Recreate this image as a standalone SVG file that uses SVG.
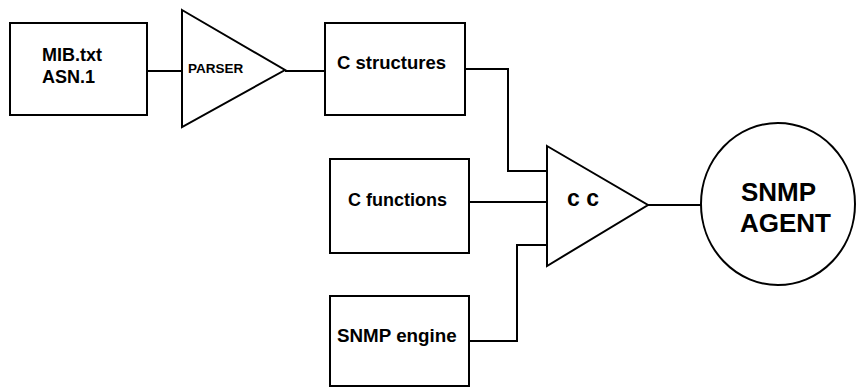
<svg xmlns="http://www.w3.org/2000/svg" width="856" height="387" viewBox="0 0 856 387">
<style>
.s{fill:#fff;stroke:#000;stroke-width:2}
.c{fill:none;stroke:#000;stroke-width:2}
text{font-family:"Liberation Sans",Arial,sans-serif;font-weight:bold;fill:#000}
</style>
<rect width="856" height="387" fill="#fff"/>
<g id="connectors">
<polyline class="c" points="147,71 182,71"/>
<polyline class="c" points="285,71 325,71"/>
<polyline class="c" points="465,69 508,69 508,171 547,171"/>
<polyline class="c" points="469,202 547,202"/>
<polyline class="c" points="469,341 517,341 517,245 547,245"/>
<polyline class="c" points="648,205 701,205"/>
</g>
<g id="mib">
<rect class="s" x="10" y="23" width="137" height="92"/>
<text x="42" y="60.5" font-size="18">MIB.txt</text>
<text x="42" y="83" font-size="18">ASN.1</text>
</g>
<g id="parser">
<polygon class="s" points="182,10 285,70 182,127"/>
<text x="188" y="73" font-size="13.5">PARSER</text>
</g>
<g id="cstructures">
<rect class="s" x="325" y="23" width="140" height="92"/>
<text x="337" y="69" font-size="18.5">C structures</text>
</g>
<g id="cfunctions">
<rect class="s" x="330" y="159" width="139" height="94"/>
<text x="348" y="206" font-size="18">C functions</text>
</g>
<g id="snmpengine">
<rect class="s" x="330" y="296" width="139" height="90"/>
<text x="337" y="342" font-size="18.8">SNMP engine</text>
</g>
<g id="cc">
<polygon class="s" points="547,146 648,205 547,266"/>
<text x="567" y="206" font-size="23">c c</text>
</g>
<g id="agent">
<ellipse class="s" cx="778" cy="204" rx="77" ry="81"/>
<text x="741" y="201" font-size="26">SNMP</text>
<text x="740" y="232" font-size="26">AGENT</text>
</g>
</svg>
